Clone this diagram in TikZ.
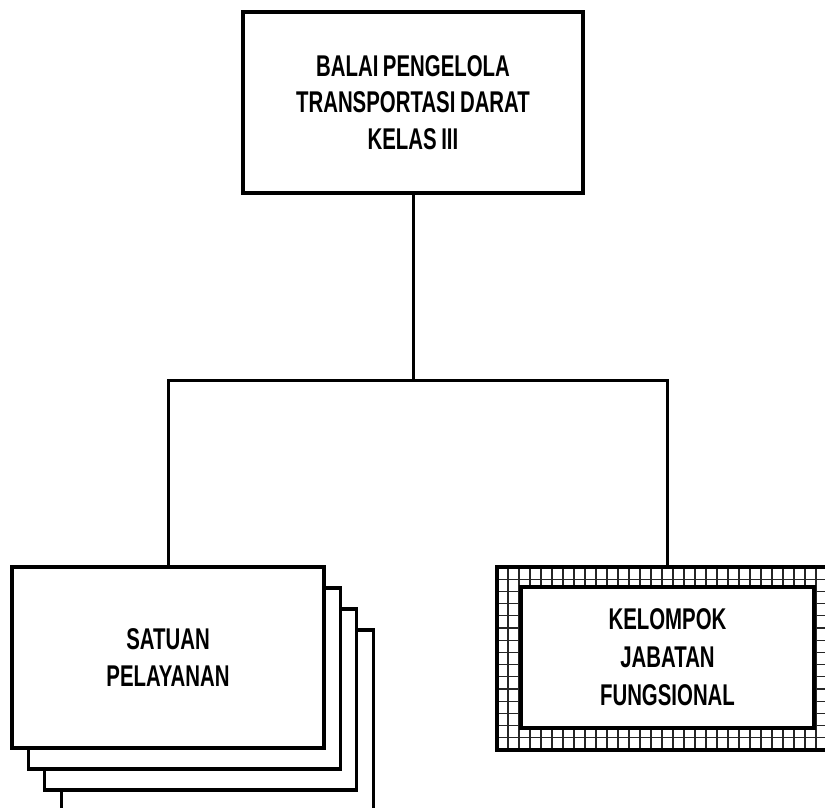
\documentclass[tikz,border=0pt]{standalone}
\usepackage{fontspec}
\newfontfamily\labfont{Liberation Sans}[FakeStretch=0.68,WordSpace=0.8]
\tikzset{
  box/.style={draw, line width=3.2pt, fill=white, align=center, inner sep=0pt,
    font=\labfont\bfseries\fontsize{30}{36.5}\selectfont},
  conn/.style={line width=3pt},
  gridln/.style={line width=1.1pt, black!85}
}
\begin{document}
\begin{tikzpicture}[x=1pt,y=-1pt]
\useasboundingbox (0,0) rectangle (825,807);
\clip (0,0) rectangle (825,807);

% top box
\node[box, minimum width=340pt, minimum height=181pt] (top) at (413,102.5)
  {BALAI PENGELOLA\\TRANSPORTASI DARAT\\KELAS III};

% stacked boxes
\node[box, minimum width=312pt, minimum height=181pt] (sp4) at (217.2,720.5) {};
\node[box, minimum width=312pt, minimum height=181pt] (sp3) at (200.8,699.5) {};
\node[box, minimum width=312pt, minimum height=181pt] (sp2) at (184.4,678.5) {};
\node[box, minimum width=312pt, minimum height=181pt] (sp1) at (168,657.5)
  {SATUAN\\PELAYANAN};

% grid band
\begin{scope}
  \clip (497,567) rectangle (838,750);
  \foreach \k in {1,...,31} \draw[gridln] (497+11*\k,567) -- (497+11*\k,750);
  \foreach \k in {1,...,14} \draw[gridln] (497,567+12.2*\k) -- (838,567+12.2*\k);
\end{scope}
\node[draw, line width=3.2pt, minimum width=341pt, minimum height=183pt, inner sep=0pt] (kjfout) at (667.5,658.5) {};
\node[box, minimum width=293pt, minimum height=141pt,
  font=\labfont\bfseries\fontsize{30}{38}\selectfont] (kjf) at (667.5,657.5)
  {KELOMPOK\\JABATAN\\FUNGSIONAL};

% connectors
\coordinate (j) at (413,380);
\draw[conn] (top.south) -- (j);
\draw[conn] (sp1.north) |- (j) -| (kjfout.north);
\end{tikzpicture}
\end{document}
